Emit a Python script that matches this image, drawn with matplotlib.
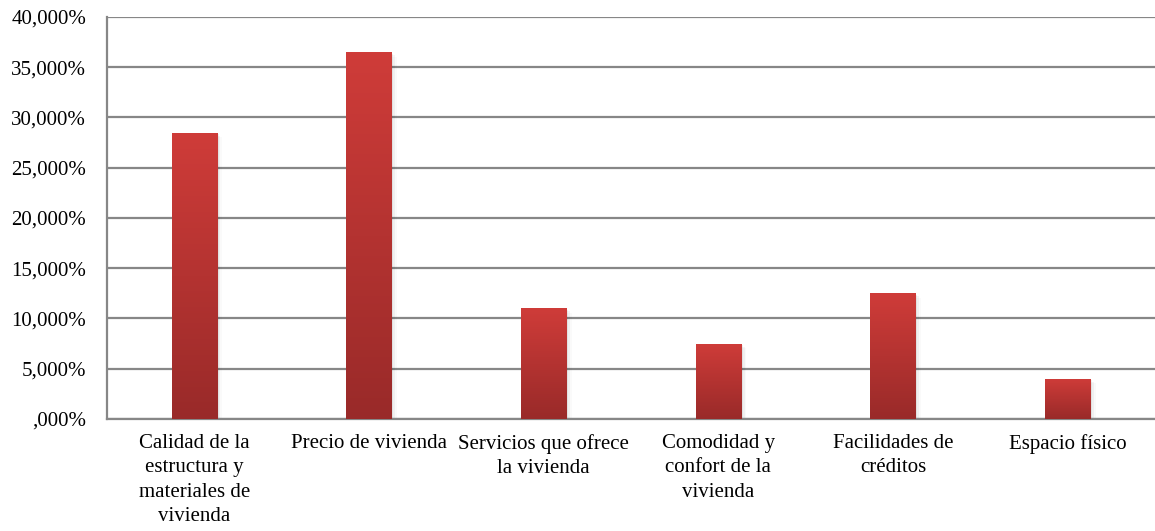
import numpy as np
import matplotlib.pyplot as plt
from matplotlib.ticker import FuncFormatter, MultipleLocator
from matplotlib.colors import LinearSegmentedColormap

categories = ["Calidad de la\nestructura y\nmateriales de\nvivienda",
              "Precio de vivienda",
              "Servicios que ofrece\nla vivienda",
              "Comodidad y\nconfort de la\nvivienda",
              "Facilidades de\ncréditos",
              "Espacio físico"]
values = [28.5, 36.5, 11.0, 7.5, 12.5, 4.0]

plt.rcParams['font.family'] = ['Liberation Serif', 'DejaVu Serif']

fig = plt.figure(figsize=(11.55, 5.31), dpi=100)
ax = fig.add_axes([0.0926, 0.211, 0.9074, 0.757])

x = np.arange(len(values))
width = 0.26
grad = LinearSegmentedColormap.from_list('bar', ['#992a29', '#cf3c39'])
ramp = np.linspace(0, 1, 256).reshape(-1, 1)

# soft shadow behind bars
for i, v in zip(x, values):
    for k, a in enumerate([0.06, 0.04, 0.02]):
        ax.bar(i + 0.006 * (k + 1), v, width + 0.008 * (k + 1), bottom=-0.15 * (k + 1),
               color='black', alpha=a, lw=0, zorder=2)

bars = ax.bar(x, values, width, color='none', lw=0, zorder=3)
for b in bars:
    im = ax.imshow(ramp, cmap=grad, aspect='auto', origin='lower', zorder=3,
                   extent=[b.get_x(), b.get_x() + b.get_width(), 0, b.get_height()])
    im.set_clip_path(b)

ax.set_xlim(-0.5, len(values) - 0.5)
ax.set_ylim(0, 40)
ax.yaxis.set_major_locator(MultipleLocator(5))
ax.yaxis.set_major_formatter(FuncFormatter(
    lambda v, p: f"{v:,.3f}".replace('.', ',').lstrip('0') + '%' if v else ',000%'))
ax.set_xticks(x)
ax.set_xticklabels(categories, linespacing=1.37)
ax.tick_params(axis='both', length=0, labelsize=15, colors='black')
ax.tick_params(axis='y', pad=15)
ax.tick_params(axis='x', pad=11)

ax.grid(axis='y', color='#878787', lw=1.6, zorder=1)
ax.set_axisbelow(True)
for s in ['top', 'right']:
    ax.spines[s].set_visible(False)
for s in ['left', 'bottom']:
    ax.spines[s].set_color('#878787')
    ax.spines[s].set_linewidth(1.6)

fig.savefig('out.png', dpi=100)
